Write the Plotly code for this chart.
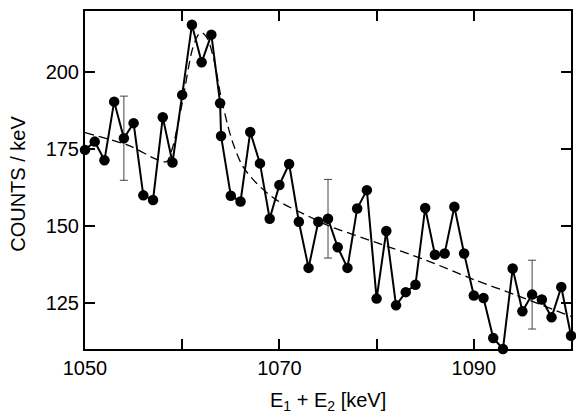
import plotly.graph_objects as go

# Measured spectrum (E1+E2 in keV, counts per keV)
energy = [1050, 1051, 1052, 1053, 1054, 1055, 1056, 1057, 1058, 1059,
          1060, 1061, 1062, 1063, 1063.9, 1064, 1065, 1066, 1067, 1068,
          1069, 1070, 1071, 1072, 1073, 1074, 1075, 1076, 1077, 1078,
          1079, 1080, 1081, 1082, 1083, 1084, 1085, 1086, 1087, 1088,
          1089, 1090, 1091, 1092, 1093, 1094, 1095, 1096, 1097, 1098,
          1099, 1100]
counts = [174.8, 177.5, 171.4, 190.5, 178.6, 183.5, 160.0, 158.5, 185.4, 170.7,
          192.7, 215.5, 203.3, 212.3, 190.0, 179.3, 159.9, 158.0, 180.6, 170.4,
          152.4, 163.4, 170.2, 151.4, 136.4, 151.4, 152.4, 143.1, 136.4, 155.7,
          161.7, 126.4, 148.4, 124.2, 128.5, 130.9, 155.9, 140.7, 141.1, 156.3,
          141.1, 127.4, 126.6, 113.6, 110.0, 136.2, 122.3, 127.7, 126.1, 120.3,
          130.2, 114.3]

# Representative error bars
err_energy = [1054, 1075, 1096]
err_counts = [178.6, 152.4, 127.7]
err_size = [13.7, 12.8, 11.2]

# Fit curve (dashed)
fit_energy = [1050, 1054.6, 1057.3, 1058.4, 1059, 1060, 1061, 1061.6, 1062, 1062.6,
              1063.2, 1064, 1064.7, 1065.2, 1066.2, 1067.6, 1069.6, 1073, 1075,
              1080, 1085, 1090, 1094.2, 1100]
fit_counts = [180.4, 176.1, 171.8, 171.0, 175.5, 190.0, 207.0, 212.0, 213.0, 211.0,
              205.0, 192.0, 182.6, 177.2, 169.6, 164.1, 158.7, 153.2, 150.2,
              144.6, 139.0, 132.6, 127.7, 120.6]

x_ticks = [1050, 1070, 1090]
x_minor_ticks = [1060, 1080, 1100]
y_ticks = [125, 150, 175, 200]

FONT = "Liberation Sans, Arial, Helvetica, sans-serif"

fig = go.Figure()

fig.add_trace(go.Scatter(
    x=err_energy, y=err_counts, mode="markers",
    marker=dict(size=1, color="rgba(0,0,0,0)"),
    error_y=dict(type="data", array=err_size, visible=True,
                 color="#444", thickness=1, width=4),
    showlegend=False, hoverinfo="skip"))

fig.add_trace(go.Scatter(
    x=fit_energy, y=fit_counts, mode="lines",
    line=dict(color="black", width=1.3, dash="9px,5px", shape="spline", smoothing=0.8),
    showlegend=False))

fig.add_trace(go.Scatter(
    x=energy, y=counts, mode="lines+markers",
    line=dict(color="black", width=2),
    marker=dict(color="black", size=10.5),
    cliponaxis=False, showlegend=False))

fig.update_layout(
    width=576, height=413,
    margin=dict(l=85, r=3, t=11, b=64),
    paper_bgcolor="white", plot_bgcolor="white",
    font=dict(family=FONT, size=20, color="black"),
    xaxis=dict(range=[1050, 1100], tickvals=x_ticks,
               ticks="inside", ticklen=10, tickwidth=1.5, tickcolor="black",
               minor=dict(tickvals=x_minor_ticks, ticks="inside", ticklen=10,
                          tickwidth=1.5, tickcolor="black", showgrid=False),
               showline=True, linecolor="black", linewidth=2, mirror="ticks",
               showgrid=False, zeroline=False,
               tickfont=dict(family=FONT, size=20, color="black")),
    yaxis=dict(range=[110, 220], tickvals=y_ticks,
               ticks="inside", ticklen=10, tickwidth=1.5, tickcolor="black",
               showline=True, linecolor="black", linewidth=2, mirror="ticks",
               showgrid=False, zeroline=False,
               tickfont=dict(family=FONT, size=20, color="black")),
    annotations=[
        dict(text="E<sub>1</sub> + E<sub>2</sub> [keV]", xref="paper", yref="paper",
             x=0.5, y=-0.155, xanchor="center", yanchor="middle", showarrow=False,
             font=dict(family=FONT, size=20, color="black")),
        dict(text="COUNTS / keV", xref="paper", yref="paper",
             x=-0.137, y=0.49, xanchor="center", yanchor="middle", textangle=-90,
             showarrow=False, font=dict(family=FONT, size=20, color="black")),
    ],
)

fig.write_html("out.html", config={"displayModeBar": False},
               post_script="document.body.style.margin='0';")
